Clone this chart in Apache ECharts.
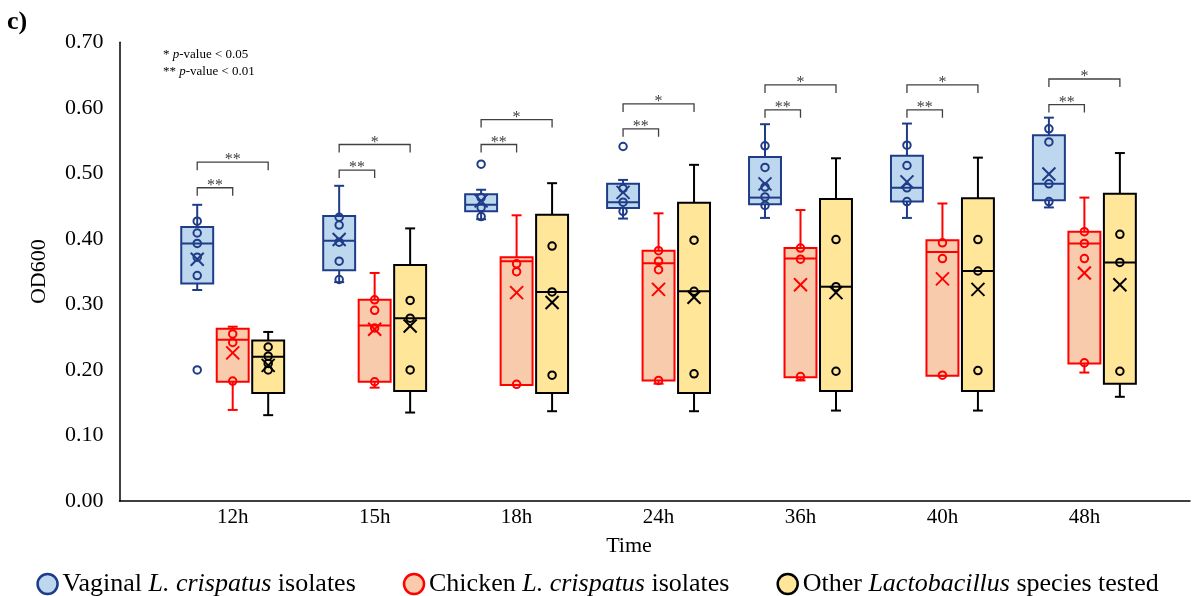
<!DOCTYPE html>
<html>
<head>
<meta charset="utf-8">
<script src="https://cdn.jsdelivr.net/npm/echarts@6.0.0/dist/echarts.min.js"></script>
<style>
html,body{margin:0;padding:0;background:#fff;}
#chart{width:1195px;height:596px;}
</style>
</head>
<body>
<div id="chart"></div>
<script>
// ---------- data ----------
const categories = ['12h', '15h', '18h', '24h', '36h', '40h', '48h'];
const yTicks = [0, 0.1, 0.2, 0.3, 0.4, 0.5, 0.6, 0.7];

// [min whisker, Q1, median, Q3, max whisker]
const vaginalBox = [
  [0.322, 0.332, 0.393, 0.418, 0.452],
  [0.334, 0.352, 0.397, 0.435, 0.481],
  [0.430, 0.442, 0.452, 0.468, 0.475],
  [0.431, 0.447, 0.456, 0.484, 0.490],
  [0.432, 0.453, 0.463, 0.525, 0.575],
  [0.432, 0.457, 0.478, 0.527, 0.576],
  [0.448, 0.459, 0.484, 0.558, 0.585]
];
const vaginalMean = [0.369, 0.399, 0.458, 0.471, 0.484, 0.487, 0.499];
const vaginalPoints = [
  [0.427, 0.409, 0.393, 0.372, 0.344],
  [0.433, 0.421, 0.395, 0.366, 0.338],
  [0.463, 0.448, 0.434],
  [0.477, 0.456, 0.442],
  [0.542, 0.509, 0.479, 0.464, 0.451],
  [0.543, 0.512, 0.478, 0.457],
  [0.568, 0.548, 0.484, 0.457]
];
const vaginalOutliers = [[0.200], [], [0.514], [0.541], [], [], []];

const chickenBox = [
  [0.139, 0.182, 0.246, 0.263, 0.266],
  [0.173, 0.182, 0.268, 0.307, 0.348],
  [0.177, 0.177, 0.366, 0.372, 0.436],
  [0.179, 0.184, 0.363, 0.382, 0.439],
  [0.184, 0.189, 0.370, 0.386, 0.444],
  [0.191, 0.191, 0.380, 0.398, 0.454],
  [0.196, 0.210, 0.393, 0.411, 0.463]
];
const chickenMean = [0.226, 0.262, 0.318, 0.323, 0.330, 0.339, 0.348];
const chickenPoints = [
  [0.255, 0.242, 0.183],
  [0.307, 0.291, 0.264, 0.182],
  [0.362, 0.350, 0.178],
  [0.382, 0.366, 0.353, 0.184],
  [0.386, 0.369, 0.190],
  [0.394, 0.370, 0.192],
  [0.411, 0.393, 0.370, 0.211]
];
const chickenOutliers = [[], [], [], [], [], [], []];

const otherBox = [
  [0.131, 0.165, 0.220, 0.245, 0.258],
  [0.135, 0.168, 0.279, 0.360, 0.416],
  [0.137, 0.165, 0.319, 0.437, 0.485],
  [0.137, 0.165, 0.320, 0.455, 0.513],
  [0.138, 0.168, 0.327, 0.461, 0.523],
  [0.138, 0.168, 0.351, 0.462, 0.524],
  [0.159, 0.179, 0.364, 0.469, 0.531]
];
const otherMean = [0.207, 0.267, 0.303, 0.311, 0.318, 0.323, 0.330];
const otherPoints = [
  [0.235, 0.221, 0.210, 0.200],
  [0.306, 0.279, 0.200],
  [0.389, 0.319, 0.192],
  [0.398, 0.320, 0.194],
  [0.399, 0.327, 0.198],
  [0.399, 0.351, 0.199],
  [0.407, 0.364, 0.198]
];
const otherOutliers = [[], [], [], [], [], [], []];

// significance brackets (y level in OD600 units, label)
const sigShortY = [0.478, 0.505, 0.544, 0.568, 0.597, 0.597, 0.605];
const sigShortLabel = ['**', '**', '**', '**', '**', '**', '**'];
const sigLongY = [0.517, 0.544, 0.582, 0.606, 0.635, 0.635, 0.644];
const sigLongLabel = ['**', '*', '*', '*', '*', '*', '*'];

// ---------- styling / layout ----------
const SERIF = '"Liberation Serif", "Times New Roman", serif';
const groups = [
  {name: 'Vaginal', box: vaginalBox, mean: vaginalMean, points: vaginalPoints, outliers: vaginalOutliers,
   offset: -0.25, fill: '#BDD7EE', stroke: '#1F3C88'},
  {name: 'Chicken', box: chickenBox, mean: chickenMean, points: chickenPoints, outliers: chickenOutliers,
   offset: 0, fill: '#F8CBAD', stroke: '#FF0000'},
  {name: 'Other', box: otherBox, mean: otherMean, points: otherPoints, outliers: otherOutliers,
   offset: 0.25, fill: '#FFE699', stroke: '#000000'}
];
const BOX_W = 0.225, CAP_W = 0.07;

function boxRenderer(g) {
  return function (params, api) {
    const i = api.value(0);
    const unit = api.size([1, 0])[0];
    const xc = api.coord([i + g.offset, 0])[0];
    const y = k => api.coord([i, api.value(k)])[1];
    const hw = BOX_W * unit / 2, cw = CAP_W * unit / 2;
    const ls = {stroke: g.stroke, lineWidth: 2};
    const yMin = y(1), yQ1 = y(2), yMed = y(3), yQ3 = y(4), yMax = y(5), yMean = y(6);
    const xs = 6.5;
    return {
      type: 'group',
      children: [
        {type: 'line', shape: {x1: xc, y1: yMax, x2: xc, y2: yQ3}, style: ls},
        {type: 'line', shape: {x1: xc, y1: yQ1, x2: xc, y2: yMin}, style: ls},
        {type: 'line', shape: {x1: xc - cw, y1: yMax, x2: xc + cw, y2: yMax}, style: ls},
        {type: 'line', shape: {x1: xc - cw, y1: yMin, x2: xc + cw, y2: yMin}, style: ls},
        {type: 'rect', shape: {x: xc - hw, y: yQ3, width: 2 * hw, height: yQ1 - yQ3},
         style: {fill: g.fill, stroke: g.stroke, lineWidth: 2}},
        {type: 'line', shape: {x1: xc - hw, y1: yMed, x2: xc + hw, y2: yMed}, style: ls},
        {type: 'line', shape: {x1: xc - xs, y1: yMean - xs, x2: xc + xs, y2: yMean + xs}, style: ls, z2: 10},
        {type: 'line', shape: {x1: xc - xs, y1: yMean + xs, x2: xc + xs, y2: yMean - xs}, style: ls, z2: 10}
      ]
    };
  };
}

const series = [];
groups.forEach(g => {
  series.push({
    name: g.name,
    type: 'custom',
    renderItem: boxRenderer(g),
    encode: {x: 0, y: [1, 2, 3, 4, 5, 6]},
    data: categories.map((c, i) => [i].concat(g.box[i]).concat([g.mean[i]])),
    itemStyle: {color: g.fill, borderColor: g.stroke},
    z: 2,
    silent: true
  });
});
groups.forEach(g => {
  const pts = [];
  categories.forEach((c, i) => {
    g.points[i].forEach(v => pts.push([i + g.offset, v]));
    g.outliers[i].forEach(v => pts.push([i + g.offset, v]));
  });
  series.push({
    name: g.name + ' points',
    type: 'scatter',
    data: pts,
    symbol: 'circle',
    symbolSize: 7.5,
    itemStyle: {color: 'rgba(0,0,0,0)', borderColor: g.stroke, borderWidth: 2, opacity: 1},
    z: 5,
    silent: true
  });
});

function bracketData(ys, endOff) {
  return categories.map((c, i) => [i, ys[i], -0.25, endOff]);
}
function bracketRenderer(labels) {
  return function (params, api) {
    const i = api.value(0), yv = api.value(1);
    const p0 = api.coord([i + api.value(2), yv]);
    const p1 = api.coord([i + api.value(3), yv]);
    const t = 8;
    return {
      type: 'group',
      children: [
        {type: 'polyline', shape: {points: [[p0[0], p0[1] + t], [p0[0], p0[1]], [p1[0], p1[1]], [p1[0], p1[1] + t]]},
         style: {stroke: '#404040', lineWidth: 1.3, fill: null}},
        {type: 'text', x: (p0[0] + p1[0]) / 2, y: p0[1] - 2,
         style: {text: labels[params.dataIndex], fill: '#404040', font: '16px ' + SERIF,
                 align: 'center', verticalAlign: 'middle'}}
      ]
    };
  };
}
series.push({name: 'sigShort', type: 'custom', renderItem: bracketRenderer(sigShortLabel),
  encode: {x: 0, y: 1}, data: bracketData(sigShortY, 0), silent: true, z: 3});
series.push({name: 'sigLong', type: 'custom', renderItem: bracketRenderer(sigLongLabel),
  encode: {x: 0, y: 1}, data: bracketData(sigLongY, 0.25), silent: true, z: 3});

const legendText = {
  'Vaginal': '{n|Vaginal }{i|L. crispatus}{n| isolates}',
  'Chicken': '{n|Chicken }{i|L. crispatus}{n| isolates}',
  'Other': '{n|Other }{i|Lactobacillus}{n| species tested}'
};

const option = {
  animation: false,
  backgroundColor: '#ffffff',
  grid: {left: 119.5, right: 5, top: 42.3, bottom: 95, containLabel: false},
  xAxis: {
    type: 'value',
    min: -0.7975,
    max: 6.744,
    axisLine: {show: true, onZero: false, lineStyle: {color: '#000', width: 1.5}},
    axisTick: {show: false},
    splitLine: {show: false},
    axisLabel: {
      customValues: categories.map((c, i) => i),
      formatter: v => categories[Math.round(v)] || '',
      color: '#000', fontFamily: SERIF, fontSize: 21, margin: 6
    }
  },
  yAxis: {
    type: 'value',
    min: 0, max: 0.7, interval: 0.1,
    axisLine: {show: true, onZero: false, lineStyle: {color: '#000', width: 1.5}},
    axisTick: {show: false},
    splitLine: {show: false},
    axisLabel: {formatter: v => v.toFixed(2), color: '#000', fontFamily: SERIF, fontSize: 22, margin: 16},
    name: 'OD600',
    nameLocation: 'middle',
    nameGap: 69,
    nameTextStyle: {color: '#000', fontFamily: SERIF, fontSize: 22}
  },
  legend: {
    data: groups.map(g => ({name: g.name, icon: 'circle',
      itemStyle: {color: g.fill, borderColor: g.stroke, borderWidth: 2.5}})),
    left: 'center',
    top: 566,
    itemWidth: 20,
    itemHeight: 20,
    itemGap: 47,
    selectedMode: false,
    formatter: name => legendText[name],
    textStyle: {
      color: '#000', fontFamily: SERIF, fontSize: 26,
      rich: {
        n: {fontFamily: SERIF, fontSize: 26, color: '#000'},
        i: {fontFamily: SERIF, fontSize: 26, fontStyle: 'italic', color: '#000'}
      }
    }
  },
  graphic: [
    {type: 'text', left: 7, top: 9, style: {text: 'c)', font: 'bold 26px ' + SERIF, fill: '#000'}},
    {type: 'text', x: 629, y: 546, style: {text: 'Time', font: '22px ' + SERIF, fill: '#000', align: 'center', verticalAlign: 'middle'}},
    {type: 'text', x: 163, y: 55, style: {
      text: '{n|* }{i|p}{n|-value < 0.05}', verticalAlign: 'middle',
      rich: {n: {font: '13px ' + SERIF, fill: '#000'}, i: {font: 'italic 13px ' + SERIF, fill: '#000'}}}},
    {type: 'text', x: 163, y: 72, style: {
      text: '{n|** }{i|p}{n|-value < 0.01}', verticalAlign: 'middle',
      rich: {n: {font: '13px ' + SERIF, fill: '#000'}, i: {font: 'italic 13px ' + SERIF, fill: '#000'}}}}
  ],
  series: series
};

const chart = echarts.init(document.getElementById('chart'), null, {renderer: 'canvas'});
chart.setOption(option);
</script>
</body>
</html>
